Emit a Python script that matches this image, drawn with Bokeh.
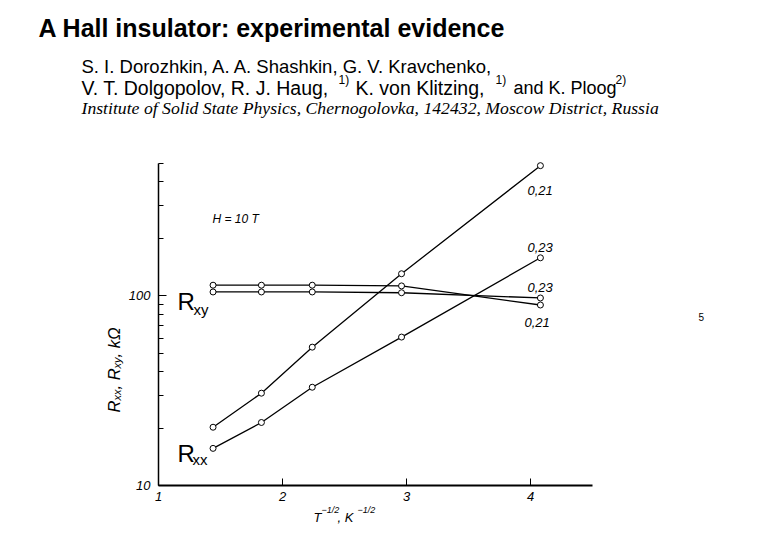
import math
from bokeh.plotting import figure
from bokeh.models import Label, FixedTicker, Range1d, LinearAxis, LogAxis
from bokeh.embed import file_html
from bokeh.resources import INLINE

# ---- data ----
inv_sqrt_T = [1.44, 1.83, 2.24, 2.96, 4.08]          # T^-1/2, K^-1/2
rxx_021 = [20.3, 30.7, 53.7, 131.0, 487.0]           # R_xx, n = 0,21
rxx_023 = [15.7, 21.5, 33.0, 60.7, 159.0]            # R_xx, n = 0,23
rxy_021 = [114.0, 114.0, 114.0, 113.0, 89.6]         # R_xy, n = 0,21
rxy_023 = [105.0, 105.0, 105.0, 104.0, 97.6]         # R_xy, n = 0,23
x_ticks = [1, 2, 3, 4]
y_major = [10, 100]
y_minor = [20, 30, 40, 50, 60, 70, 80, 90, 200, 300, 400, 500]
x_bounds = (1, 4.5)
y_bounds = (10, 500)

# ---- layout (pixels on the canvas) ----
W, H = 772, 532
PL, PR, PT, PB = 158, 592, 163, 485   # where the axes box sits

xs = (PR - PL) / (x_bounds[1] - x_bounds[0])
dec = (PB - PT) / (math.log10(y_bounds[1]) - math.log10(y_bounds[0]))
x_range = Range1d(x_bounds[0] - PL / xs, x_bounds[1] + (W - PR) / xs)
y_range = Range1d(10 ** (math.log10(y_bounds[0]) - (H - PB) / dec),
                  10 ** (math.log10(y_bounds[1]) + PT / dec))

p = figure(width=W, height=H, x_range=x_range, y_range=y_range,
           y_axis_type="log", x_axis_location=None, y_axis_location=None,
           output_backend="svg", toolbar_location=None, title=None,
           min_border=0)
p.min_border_left = p.min_border_right = p.min_border_top = p.min_border_bottom = 0
p.outline_line_color = None
p.grid.visible = False
p.background_fill_color = "white"
p.border_fill_color = "white"

xa = LinearAxis(fixed_location=y_bounds[0], bounds=x_bounds,
                ticker=FixedTicker(ticks=x_ticks))
xa.major_tick_in = 7
xa.major_tick_out = 0
xa.minor_tick_in = 0
xa.minor_tick_out = 0
xa.axis_line_width = 2
xa.axis_line_color = "black"
xa.major_tick_line_color = "black"
xa.major_label_text_font = "Liberation Sans"
xa.major_label_text_font_style = "italic"
xa.major_label_text_font_size = "13px"
xa.major_label_text_color = "black"
xa.major_label_standoff = 6
p.add_layout(xa, "below")

ya = LogAxis(fixed_location=x_bounds[0], bounds=y_bounds,
             ticker=FixedTicker(ticks=y_major, minor_ticks=y_minor))
ya.major_tick_in = 8
ya.major_tick_out = 0
ya.minor_tick_in = 5
ya.minor_tick_out = 0
ya.axis_line_width = 1.5
ya.axis_line_color = "black"
ya.major_tick_line_color = "black"
ya.minor_tick_line_color = "black"
ya.major_label_overrides = {10: "10", 100: "100"}
ya.major_label_text_font = "Liberation Sans"
ya.major_label_text_font_style = "italic"
ya.major_label_text_font_size = "13px"
ya.major_label_text_color = "black"
ya.major_label_standoff = 8
p.add_layout(ya, "left")

for ys in (rxx_021, rxx_023, rxy_021, rxy_023):
    p.line(inv_sqrt_T, ys, line_color="black", line_width=1.3)
    p.scatter(inv_sqrt_T, ys, marker="circle", size=6, fill_color="white",
              line_color="black", line_width=1)


def txt(text, px, py, size, style="normal", font="Liberation Sans", angle=0.0):
    """Place text by its canvas position (left edge, baseline)."""
    p.add_layout(Label(x=px, y=H - py, x_units="screen", y_units="screen",
                       text=text, text_font=font, text_font_size=f"{size}px",
                       text_font_style=style, text_color="black",
                       text_align="left", text_baseline="alphabetic", angle=angle))


# header
txt("A Hall insulator: experimental evidence", 38, 27, 25, "bold")
txt("S. I. Dorozhkin, A. A. Shashkin, G. V. Kravchenko,", 81, 66, 18.5)
txt("V. T. Dolgopolov, R. J. Haug,", 81, 87, 19.5)
txt("1)", 338, 79, 12)
txt("K. von Klitzing,", 355, 87, 19.5)
txt("1)", 495, 79, 12)
txt("and K. Ploog", 513, 87, 18)
txt("2)", 615, 79, 12)
txt("Institute of Solid State Physics, Chernogolovka, 142432, Moscow District, Russia",
    81, 107, 17.7, "italic", "Liberation Serif")

# in-plot annotations
txt("H = 10 T", 212, 218, 12, "italic")
txt("R", 177, 301, 24)
txt("xy", 193, 309, 15)
txt("R", 177, 453, 24)
txt("xx", 192, 459, 15)
txt("0,21", 527, 190, 13, "italic")
txt("0,23", 527, 247, 13, "italic")
txt("0,23", 527, 287, 13, "italic")
txt("0,21", 524, 322, 13, "italic")
txt("5", 698, 316, 10)

# y-axis title (rotated, reading upwards)
a = math.pi / 2
txt("R", 113, 412, 16.5, "italic", angle=a)
txt("xx", 116, 400, 11, "italic", angle=a)
txt(", R", 113, 389, 16.5, "italic", angle=a)
txt("xy", 116, 368, 11, "italic", angle=a)
txt(", kΩ", 113, 357, 16.5, "italic", angle=a)

# x-axis title
txt("T", 313, 517, 13, "italic")
txt("−1/2", 321, 509, 9, "italic")
txt(", K", 337, 517, 13, "italic")
txt("−1/2", 357, 509, 9, "italic")

open("out.html", "w").write(file_html(p, INLINE))
